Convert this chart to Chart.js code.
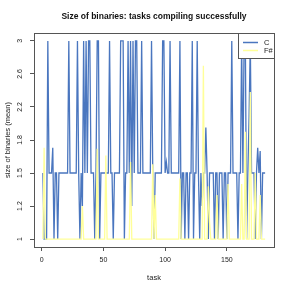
<!DOCTYPE html>
<html>
<head>
<meta charset="utf-8">
<script src="https://cdn.jsdelivr.net/npm/chart.js@4.4.1/dist/chart.umd.min.js"></script>
<style>
  html, body { margin: 0; padding: 0; background: #fff; }
  #wrap { width: 291px; height: 291px; }
</style>
</head>
<body>
<div id="wrap"><canvas id="chart" width="291" height="291"></canvas></div>
<script>
// Mean binary size per task, C vs F#
const cSizes = [
  1.5, 1, 1, 1, 3, 1.5, 1.5, 1.5, 1.73, 1,
  1.5, 1.5, 1, 1.5, 1.5, 1.5, 1.5, 1.5, 1.5, 1.5,
  1.5, 3, 1.5, 1.5, 1.5, 1.5, 1.5, 1.5, 3, 1.5,
  1, 1.5, 1.2, 3, 1.5, 3, 1.5, 3, 3, 1.5,
  1.5, 1.5, 1, 1.5, 3, 3, 1, 1.5, 1.5, 1.5,
  1.5, 1.5, 1.5, 1.5, 3, 1.5, 1.5, 1, 1.5, 1.5,
  1.5, 1.5, 1.5, 3, 3, 3, 1, 1.5, 1.5, 3,
  1.5, 3, 1.2, 3, 1.5, 3, 3, 1.5, 1.5, 1.5,
  3, 1.5, 1.5, 1.5, 1.5, 1.5, 1.5, 1.5, 3, 1.5,
  1, 1.5, 1.5, 1.5, 1.5, 1.5, 1.5, 3, 3, 1.5,
  1.6, 1.5, 1.5, 3, 1.5, 1.5, 1.5, 1.5, 1.5, 1.5,
  1.5, 3, 1, 1.5, 1.5, 1, 1.5, 1.5, 1, 1.5,
  1.5, 3, 1, 1.5, 1.5, 3, 1.5, 1, 1.5, 1.2,
  1.5, 1.5, 1.95, 1.5, 1, 1.5, 1.5, 1.5, 1.5, 1,
  1.5, 1.5, 1, 1.5, 1.5, 1.5, 1, 1.5, 1.5, 1,
  1.5, 1.5, 1.5, 3, 1.5, 1.5, 1.5, 1.5, 1, 1.5,
  1.5, 3, 1.5, 3, 3, 1, 1.5, 2.07, 3, 1.5,
  1.5, 1.5, 1, 1.5, 1.73, 1.5, 1.7, 1, 1.5, 1.5, 1.5
];
const fsharpSizes = [
  1, 1.73, 1, 1, 1, 1, 1, 1, 1, 1,
  1, 1, 1, 1, 1, 1, 1, 1, 1, 1,
  1, 1, 1, 1, 1, 1, 1, 1, 1, 1,
  1, 1, 1.2, 1, 1, 1, 1, 1, 1, 1,
  1, 1, 1, 1, 1.72, 1, 1, 1, 1, 1,
  1, 1.66, 1, 1, 1, 1, 1, 1, 1, 1,
  1, 1, 1, 1, 1, 1, 1, 1, 1, 1,
  1, 1.6, 1, 1, 1, 1, 1, 1, 1, 1,
  1, 1, 1, 1, 1, 1, 1, 1, 1, 1.58,
  1, 1.3, 1, 1, 1, 1, 1, 1, 1, 1,
  1, 1, 1, 1, 1, 1, 1, 1, 1, 1,
  1, 1.45, 1, 1, 1, 1, 1, 1, 1, 1,
  1, 1, 1, 1, 1, 1, 1, 1, 1, 1,
  2.7, 1, 1, 1, 1.38, 1.1, 1, 1, 1, 1,
  1, 1.3, 1, 1, 1, 1, 1, 1, 1, 1,
  1.4, 1, 1, 1, 1, 1, 1, 1, 1, 1,
  1, 1.4, 1, 1, 1.9, 1, 1, 1, 2.38, 1,
  1, 1, 1.5, 1, 1, 1, 1.3, 1, 1, 1, 1
];
const xTicks = [0, 50, 100, 150];
const yTicks = [1, 1.2, 1.5, 1.8, 2.2, 2.6, 3];
const tasks = cSizes.map((_, i) => i + 1);

const FONT = '"Liberation Sans", Arial, sans-serif';
const AXIS_GREY = '#555';
const PAD = 0.04; // R style 4% extension of the axis range

// y axis: ticks are evenly spaced, values in between are interpolated
function tickFraction(v) {
  const n = yTicks.length - 1;
  let i = 0;
  while (i < n - 1 && v > yTicks[i + 1]) i++;
  return (i + (v - yTicks[i]) / (yTicks[i + 1] - yTicks[i])) / n;
}

class TickStepScale extends Chart.LinearScale {
  buildTicks() {
    return yTicks.map(v => ({ value: v }));
  }
  getPixelForValue(value) {
    return this.getPixelForDecimal((tickFraction(value) + PAD) / (1 + 2 * PAD));
  }
  getValueForPixel(pixel) {
    const n = yTicks.length - 1;
    const f = (this.getDecimalForPixel(pixel) * (1 + 2 * PAD) - PAD) * n;
    const i = Math.max(0, Math.min(n - 1, Math.floor(f)));
    return yTicks[i] + (f - i) * (yTicks[i + 1] - yTicks[i]);
  }
}
TickStepScale.id = 'tickstep';
TickStepScale.defaults = {};
Chart.register(TickStepScale);

const frameAndText = {
  id: 'frameAndText',
  afterDatasetsDraw(chart) {
    const { ctx, chartArea: a } = chart;
    ctx.save();
    // plot box
    ctx.strokeStyle = AXIS_GREY;
    ctx.lineWidth = 1;
    ctx.strokeRect(Math.round(a.left) + 0.5, Math.round(a.top) + 0.5,
      Math.round(a.right - a.left), Math.round(a.bottom - a.top));

    // legend in the top right corner
    const lw = 36, lh = 25;
    const lx = Math.round(a.right) - lw, ly = Math.round(a.top);
    ctx.fillStyle = '#fff';
    ctx.fillRect(lx + 0.5, ly + 0.5, lw, lh);
    ctx.strokeRect(lx + 0.5, ly + 0.5, lw, lh);
    ctx.font = '7.5px ' + FONT;
    ctx.textBaseline = 'middle';
    ctx.textAlign = 'left';
    const order = [1, 0];
    order.forEach((di, k) => {
      const ds = chart.data.datasets[di];
      const y = ly + 9.5 + k * 8;
      ctx.strokeStyle = ds.borderColor;
      ctx.lineWidth = 1.5;
      ctx.beginPath();
      ctx.moveTo(lx + 5, y);
      ctx.lineTo(lx + 20, y);
      ctx.stroke();
      ctx.fillStyle = '#222';
      ctx.fillText(ds.label, lx + 26, y);
    });

    // title centred over the plot box
    ctx.fillStyle = '#111';
    ctx.font = 'bold 8.5px ' + FONT;
    ctx.textAlign = 'center';
    ctx.fillText('Size of binaries: tasks compiling successfully', (a.left + a.right) / 2, 17);
    ctx.restore();
  }
};

new Chart(document.getElementById('chart'), {
  type: 'line',
  data: {
    labels: tasks,
    datasets: [
      {
        label: 'F#',
        data: fsharpSizes,
        borderColor: '#ffff99',
        borderWidth: 1.3,
        pointRadius: 0,
        tension: 0,
        order: 0
      },
      {
        label: 'C',
        data: cSizes,
        borderColor: '#4a76bf',
        borderWidth: 1.3,
        pointRadius: 0,
        tension: 0,
        order: 1
      }
    ]
  },
  options: {
    responsive: false,
    animation: false,
    events: [],
    layout: { padding: { top: 33, right: 17, left: 0, bottom: 0 } },
    plugins: { legend: { display: false }, title: { display: false }, tooltip: { enabled: false } },
    scales: {
      x: {
        type: 'linear',
        min: 1 - PAD * (tasks.length - 1),
        max: tasks.length + PAD * (tasks.length - 1),
        afterBuildTicks: s => { s.ticks = xTicks.map(v => ({ value: v })); },
        afterFit: s => { s.height = 44; },
        border: { display: false },
        grid: { drawOnChartArea: false, drawTicks: true, tickLength: 4, color: AXIS_GREY },
        ticks: { color: '#222', font: { family: FONT, size: 7 }, padding: 5, maxRotation: 0 },
        title: { display: true, text: 'task', color: '#222', font: { family: FONT, size: 7.5 }, padding: { top: 0, bottom: 9 } }
      },
      y: {
        type: 'tickstep',
        min: 1,
        max: 3,
        afterFit: s => { s.width = 34; },
        border: { display: false },
        grid: { drawOnChartArea: false, drawTicks: true, tickLength: 4, color: AXIS_GREY },
        ticks: {
          color: '#222', font: { family: FONT, size: 7 }, padding: 5,
          minRotation: 90, maxRotation: 90, crossAlign: 'center',
          callback: v => String(v)
        },
        title: { display: true, text: 'size of binaries (mean)', color: '#222', font: { family: FONT, size: 7.5 }, padding: { top: 3, bottom: 0 } }
      }
    }
  },
  plugins: [frameAndText]
});
</script>
</body>
</html>
